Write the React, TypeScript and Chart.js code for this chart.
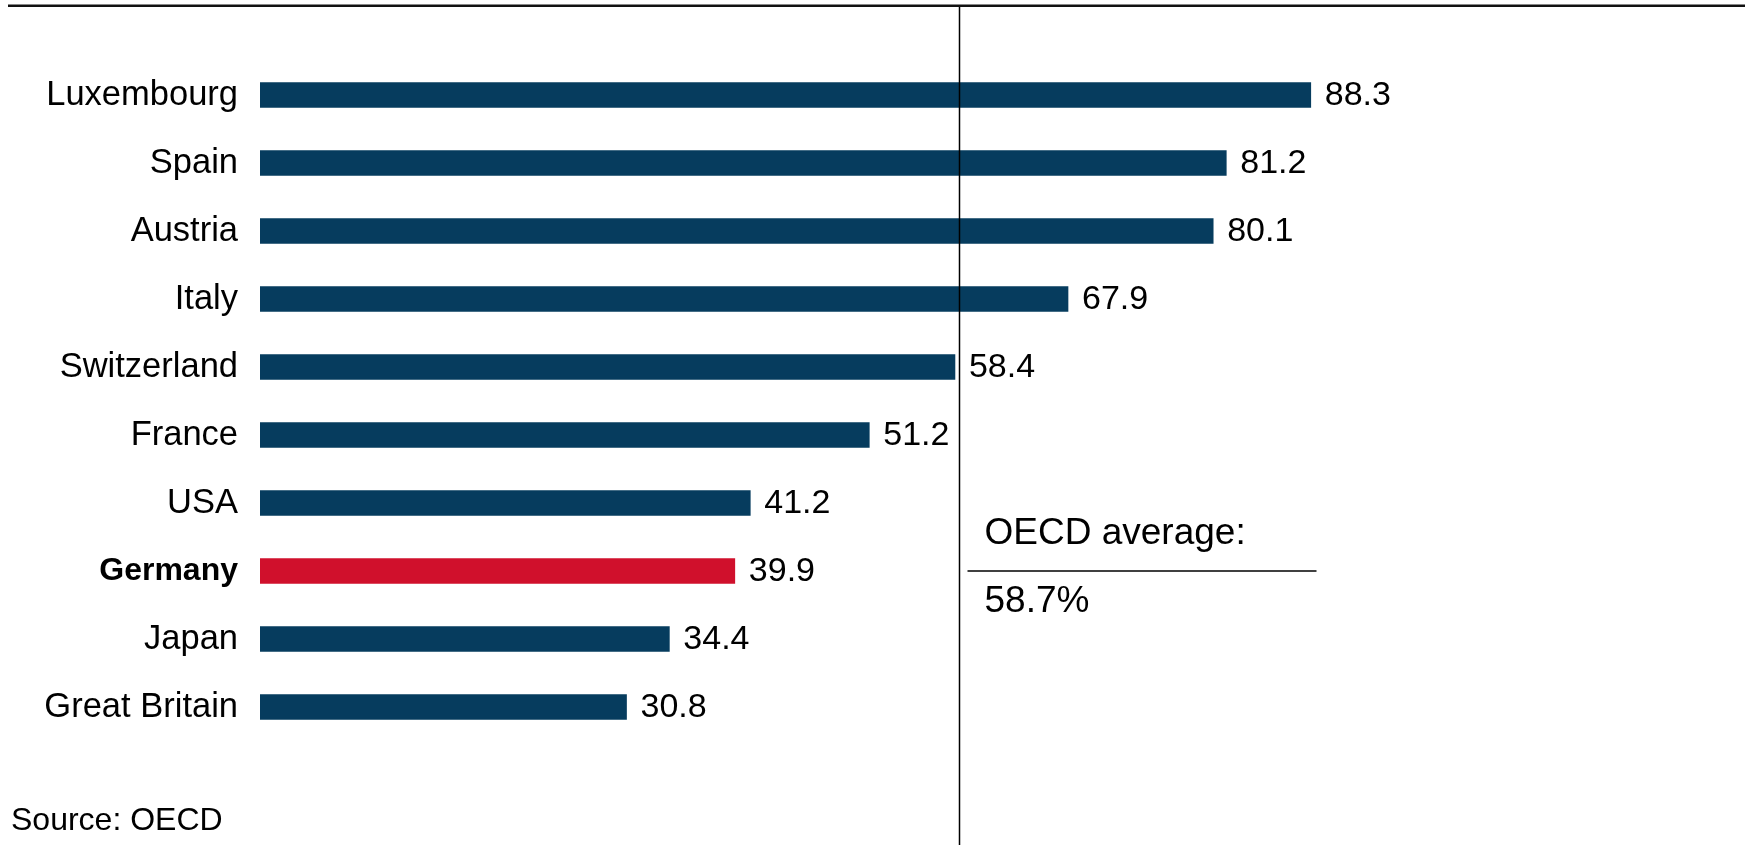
import React, { useEffect, useRef } from "react";
import { Chart, registerables } from "chart.js";

Chart.register(...registerables);

const categories = [
  "Luxembourg",
  "Spain",
  "Austria",
  "Italy",
  "Switzerland",
  "France",
  "USA",
  "Germany",
  "Japan",
  "Great Britain",
];
const values = [88.3, 81.2, 80.1, 67.9, 58.4, 51.2, 41.2, 39.9, 34.4, 30.8];
const highlightCategory = "Germany";
const oecdAverage = 58.7;
const oecdLabel = "OECD average:";
const oecdValueLabel = "58.7%";
const sourceText = "Source: OECD";

const FONT = "'Liberation Sans', Arial, Helvetica, sans-serif";
const NAVY = "#063c5e";
const RED = "#d0102c";

export default function App() {
  const canvasRef = useRef<HTMLCanvasElement | null>(null);

  useEffect(() => {
    const canvas = canvasRef.current;
    if (!canvas) return;

    const valueLabels = {
      id: "valueLabels",
      afterDatasetsDraw(chart: any) {
        const ctx = chart.ctx;
        const meta = chart.getDatasetMeta(0);
        ctx.save();
        ctx.fillStyle = "#000";
        ctx.font = `34px ${FONT}`;
        ctx.textAlign = "left";
        ctx.textBaseline = "middle";
        meta.data.forEach((el: any, i: number) => {
          ctx.fillText(values[i].toFixed(1), el.x + 14, el.y + 1);
        });
        ctx.restore();
      },
    };

    const annotations = {
      id: "annotations",
      afterDraw(chart: any) {
        const ctx = chart.ctx;
        const xs = chart.scales.x;
        const lx = Math.round(xs.getPixelForValue(oecdAverage)) + 0.5;
        ctx.save();
        // top rule
        ctx.fillStyle = "#111";
        ctx.fillRect(8, 4.5, chart.width - 8, 2.5);
        // average line
        ctx.strokeStyle = "#000";
        ctx.lineWidth = 1.5;
        ctx.beginPath();
        ctx.moveTo(lx, 7);
        ctx.lineTo(lx, chart.height);
        ctx.stroke();
        // annotation
        ctx.fillStyle = "#000";
        ctx.textAlign = "left";
        ctx.textBaseline = "alphabetic";
        ctx.font = `37px ${FONT}`;
        ctx.fillText(oecdLabel, lx + 25, 544);
        ctx.beginPath();
        ctx.moveTo(lx + 8, 571);
        ctx.lineTo(lx + 357, 571);
        ctx.stroke();
        ctx.fillText(oecdValueLabel, lx + 25, 612);
        // source
        ctx.font = `32px ${FONT}`;
        ctx.fillText(sourceText, 11, 830);
        ctx.restore();
      },
    };

    const chart = new Chart(canvas, {
      type: "bar",
      data: {
        labels: categories,
        datasets: [
          {
            data: values,
            backgroundColor: categories.map((c) =>
              c === highlightCategory ? RED : NAVY
            ),
            borderWidth: 0,
            barThickness: 25,
          },
        ],
      },
      options: {
        indexAxis: "y",
        responsive: false,
        animation: false,
        layout: { padding: { top: 61, bottom: 104, left: 0, right: 176 } },
        plugins: {
          legend: { display: false },
          tooltip: { enabled: false },
        },
        scales: {
          x: {
            display: false,
            min: 0,
            max: 110,
          },
          y: {
            offset: true,
            grid: { display: false, drawTicks: false },
            border: { display: false },
            afterFit(scale: any) {
              scale.width = 260;
            },
            ticks: {
              padding: 22,
              color: "#000",
              font: (ctx: any) => {
                const lab = categories[ctx.index];
                return lab === highlightCategory
                  ? { family: FONT, size: 32, weight: "bold" }
                  : { family: FONT, size: 34.5, weight: "normal" };
              },
            },
          },
        },
      },
      plugins: [valueLabels, annotations],
    } as any);

    return () => chart.destroy();
  }, []);

  return (
    <div
      style={{
        position: "absolute",
        left: 0,
        top: 0,
        width: 1745,
        height: 845,
        background: "#fff",
        overflow: "hidden",
      }}
    >
      <canvas ref={canvasRef} width={1745} height={845} />
    </div>
  );
}
